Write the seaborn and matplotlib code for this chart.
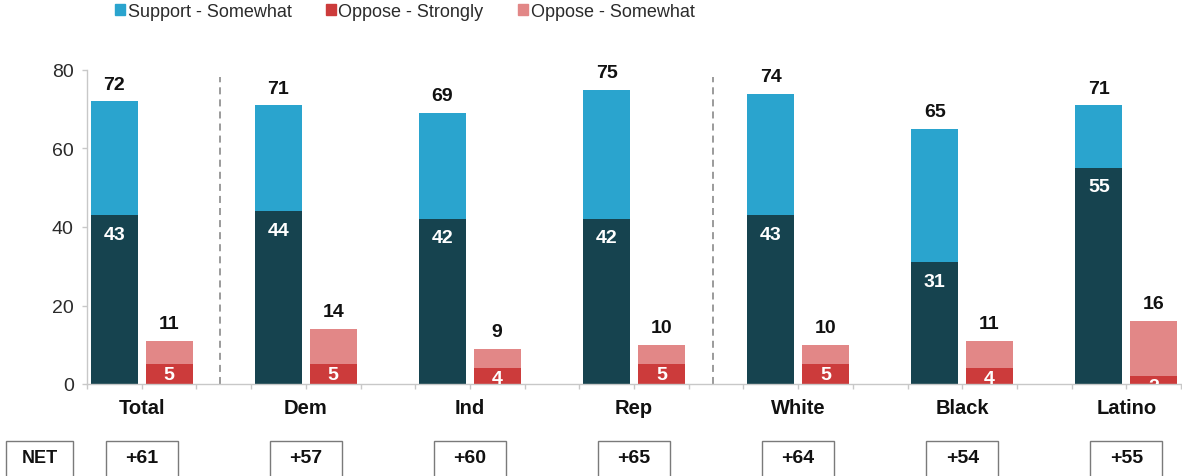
import matplotlib
matplotlib.use("Agg")
import matplotlib.pyplot as plt
from matplotlib.patches import Patch, Rectangle
import numpy as np
import pandas as pd
import seaborn as sns

groups = ["Total", "Dem", "Ind", "Rep", "White", "Black", "Latino"]
support_strongly = [43, 44, 42, 42, 43, 31, 55]
support_total = [72, 71, 69, 75, 74, 65, 71]
oppose_strongly = [5, 5, 4, 5, 5, 4, 2]
oppose_total = [11, 14, 9, 10, 10, 11, 16]

C_SUP_STRONG = "#16434F"
C_SUP_SOME = "#2AA4CE"
C_OPP_STRONG = "#CC3B3B"
C_OPP_SOME = "#E28787"

sns.set_style("white")
plt.rcParams["font.family"] = ["Liberation Sans", "DejaVu Sans"]

# one slot per bar, plus an empty slot between groups
order = []
rows = []
for i, g in enumerate(groups):
    order += [g + "|sup", g + "|opp"]
    if i < len(groups) - 1:
        order.append(g + "|gap")
    rows.append((g + "|sup", support_total[i], support_strongly[i], C_SUP_SOME, C_SUP_STRONG))
    rows.append((g + "|opp", oppose_total[i], oppose_strongly[i], C_OPP_SOME, C_OPP_STRONG))
df = pd.DataFrame(rows, columns=["slot", "total", "strong", "c_light", "c_dark"])

fig = plt.figure(figsize=(11.82, 4.77), dpi=100)
ax = fig.add_axes([87 / 1182, 92 / 477, 1094 / 1182, 314 / 477])

sns.barplot(data=df, x="slot", y="total", hue="slot", order=order,
            palette=dict(zip(df.slot, df.c_light)), legend=False,
            width=0.86, saturation=1, linewidth=0, ax=ax)
sns.barplot(data=df, x="slot", y="strong", hue="slot", order=order,
            palette=dict(zip(df.slot, df.c_dark)), legend=False,
            width=0.86, saturation=1, linewidth=0, ax=ax)

ax.set_xlim(-0.5, len(order) - 0.5)
ax.set_ylim(0, 80)
ax.set_yticks([0, 20, 40, 60, 80])
ax.set_xticks(np.arange(-0.5, len(order), 1.0))
ax.set_xticklabels([])
ax.set_xlabel("")
ax.set_ylabel("")
ax.tick_params(axis="x", direction="out", length=3.6, width=1, color="#c8c8c8", bottom=True)
ax.tick_params(axis="y", direction="out", length=3.6, width=1, color="#c8c8c8", left=True,
               labelsize=14, labelcolor="#2b2b2b", pad=6)
for s in ["top", "right"]:
    ax.spines[s].set_visible(False)
for s in ["left", "bottom"]:
    ax.spines[s].set_color("#c8c8c8")
    ax.spines[s].set_linewidth(1)

# dashed separators
for xv in [1.93, 10.95]:
    ax.axvline(xv, ymin=0, ymax=0.978, color="#808080", lw=1.1, ls=(0, (4.6, 3.3)))

# value labels
for _, r in df.iterrows():
    x = order.index(r.slot)
    ax.text(x, r.total + 4.4, f"{r.total}", ha="center", va="center",
            fontsize=14, fontweight="bold", color="#111111")
    off = 4.8 if r.strong >= 10 else 2.6
    ax.text(x, r.strong - off, f"{r.strong}", ha="center", va="center",
            fontsize=14, fontweight="bold", color="white", clip_on=True)

# group labels and NET boxes
xt = ax.get_xaxis_transform()
box_w, box_h = 72 / 54.7, 36 / 314
box_y = -(442 - 385) / 314 - box_h
for i, g in enumerate(groups):
    xc = order.index(g + "|sup") + 0.5
    ax.text(xc, -24 / 314, g, transform=xt, ha="center", va="center",
            fontsize=14.5, fontweight="bold", color="#111111")
    net = support_total[i] - oppose_total[i]
    ax.add_patch(Rectangle((xc - box_w / 2, box_y), box_w, box_h, transform=xt,
                           facecolor="white", edgecolor="#7a7a7a", lw=1, clip_on=False))
    ax.text(xc, -(459 - 385) / 314, f"+{net}", transform=xt, ha="center",
            va="center", fontsize=14, fontweight="bold", color="#111111")

fig.add_artist(Rectangle((6 / 1182, 1 - 478 / 477), 67 / 1182, 36 / 477,
                         transform=fig.transFigure, facecolor="white",
                         edgecolor="#7a7a7a", lw=1))
fig.text(40 / 1182, 1 - 459 / 477, "NET", ha="center", va="center",
         fontsize=13, fontweight="bold", color="#111111")

handles = [Patch(color=C_SUP_SOME, label="Support - Somewhat"),
           Patch(color=C_OPP_STRONG, label="Oppose - Strongly"),
           Patch(color=C_OPP_SOME, label="Oppose - Somewhat")]
fig.legend(handles=handles, loc="upper left", bbox_to_anchor=(115 / 1182, 1 - 4 / 477),
           ncol=3, frameon=False, fontsize=13, handlelength=0.55, handleheight=0.55,
           handletextpad=0.15, columnspacing=1.9, borderpad=0, borderaxespad=0,
           labelcolor="#2b2b2b")

fig.savefig("out.png", dpi=100)
